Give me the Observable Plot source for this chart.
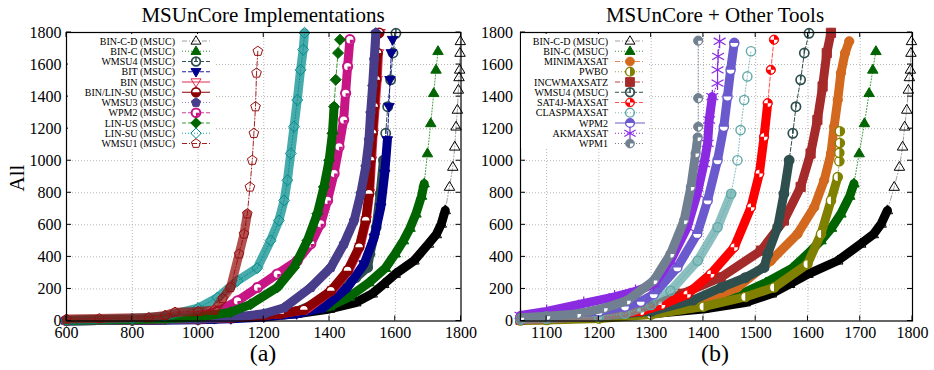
<!DOCTYPE html>
<html><head><meta charset="utf-8">
<script src="https://cdn.jsdelivr.net/npm/d3@7"></script>
<script src="https://cdn.jsdelivr.net/npm/@observablehq/plot@0.6"></script>
<style>
body{margin:0;background:#fff;}
#wrap{position:relative;width:934px;height:370px;overflow:hidden;font-family:"Liberation Serif","Times New Roman",serif;color:#000;}
.pnl{position:absolute;top:0;}
.lbl{position:absolute;white-space:nowrap;}
</style></head><body>
<div id="wrap"></div>
<script>
// ---------------- data ----------------
const xTicksA = [600, 800, 1000, 1200, 1400, 1600, 1800];
const xTicksB = [1100, 1200, 1300, 1400, 1500, 1600, 1700, 1800];
const yTicks = [0, 200, 400, 600, 800, 1000, 1200, 1400, 1600, 1800];

const binCD_x = [600,800,1000,1050,1100,1200,1300,1400,1480,1530,1565,1600,1657,1701,1725,1740,1752,1765,1775,1781,1785,1789,1792,1794,1796,1797,1798];
const binCD_y = [2,5,12,15,18,28,45,75,115,170,230,293,376,481,540,606,690,836,961,1087,1212,1317,1442,1520,1567,1672,1745];
const binC_x = [600,800,1000,1050,1100,1200,1300,1400,1460,1520,1570,1600,1625,1645,1663,1680,1688,1698,1708,1717,1724,1730];
const binC_y = [2,5,12,16,20,32,52,90,150,240,330,420,502,580,669,780,857,1045,1233,1421,1567,1683];
const wmsu4_x = [600,800,1000,1050,1100,1200,1300,1380,1434,1480,1516,1523,1542,1554,1564,1571,1577,1586,1593,1602];
const wmsu4_y = [2,5,10,14,18,30,60,130,209,270,334,418,585,794,1003,1171,1337,1505,1672,1795];
const bit_x = [600,800,1000,1100,1200,1300,1383,1455,1505,1536,1556,1568,1576,1581,1584,1588,1592];
const bit_y = [2,4,8,14,25,45,83,209,355,522,710,920,1129,1337,1505,1672,1755];
const bin_x = [600,800,1000,1100,1200,1250,1330,1410,1460,1493,1512,1522,1528,1533,1539,1545,1549,1554];
const bin_y = [3,6,12,20,35,45,72,195,320,465,630,800,1003,1171,1337,1505,1672,1798];
const binLinSu_x = [600,800,1000,1100,1200,1250,1322,1404,1455,1490,1510,1520,1525,1531,1536,1542,1546,1551];
const binLinSu_y = [3,6,12,20,35,45,70,188,314,460,627,794,1003,1171,1337,1505,1672,1798];
const wmsu3_x = [600,800,1000,1100,1200,1262,1343,1404,1444,1475,1495,1510,1520,1525,1531,1536,1541];
const wmsu3_y = [2,5,12,22,45,83,209,334,481,627,794,961,1129,1296,1463,1630,1798];
const wpm2m_x = [600,800,900,1000,1059,1120,1181,1241,1302,1343,1373,1394,1414,1429,1443,1449,1455,1462];
const wpm2m_y = [3,8,14,30,60,125,209,293,376,481,606,752,920,1087,1254,1421,1588,1755];
const linUs_x = [600,800,900,1000,1100,1160,1241,1292,1333,1363,1383,1399,1409,1414,1419,1426,1432];
const linUs_y = [3,8,14,25,55,104,209,334,502,669,836,1003,1171,1337,1505,1672,1755];
const linSu_x = [600,800,900,1000,1059,1120,1180,1221,1246,1262,1272,1282,1292,1302,1312,1320,1324];
const linSu_y = [5,15,30,80,146,251,330,502,627,752,878,1045,1212,1379,1567,1693,1798];
const wmsu1_x = [600,700,850,900,930,1000,1050,1075,1099,1125,1140,1150,1158,1165,1170,1175,1178,1182];
const wmsu1_y = [12,15,22,35,55,60,68,140,209,418,543,669,836,1003,1171,1337,1547,1683];

const minimax_x = [1050,1100,1200,1300,1369,1465,1529,1580,1612,1631,1644,1650,1657,1663,1671,1679];
const minimax_y = [4,8,22,50,83,209,376,543,710,878,1045,1212,1379,1547,1672,1745];
const pwbo_x = [1050,1100,1200,1300,1400,1480,1535,1599,1625,1644,1657,1660,1660,1661,1661];
const pwbo_y = [3,6,15,40,90,150,209,355,543,752,898,997,1049,1111,1184];
const incw_x = [1050,1100,1200,1300,1360,1433,1510,1554,1586,1605,1618,1628,1636,1644];
const incw_y = [8,18,40,90,170,272,439,627,836,1045,1254,1463,1672,1798];
const sat4j_x = [1050,1100,1200,1280,1320,1369,1414,1459,1491,1507,1516,1523,1529,1535];
const sat4j_y = [8,15,30,60,100,167,293,460,710,920,1149,1359,1567,1755];
const clasp_x = [1050,1100,1200,1250,1300,1337,1389,1427,1453,1465,1471,1478,1484,1491];
const clasp_y = [8,14,28,45,100,188,376,585,794,1003,1191,1379,1526,1683];
const wpm2_x = [1050,1100,1200,1250,1280,1305,1350,1388,1408,1427,1439,1446,1452,1459];
const wpm2_y = [25,35,60,90,120,167,334,543,752,1003,1212,1400,1567,1735];
const akmax_x = [1050,1100,1171,1230,1270,1305,1337,1369,1388,1401,1408,1411,1417,1427,1427,1428,1431];
const akmax_y = [35,60,110,150,185,230,376,585,794,982,1108,1254,1400,1484,1567,1651,1745];
const wpm1_x = [1050,1100,1159,1210,1254,1305,1337,1363,1376,1385,1389,1390,1390,1390];
const wpm1_y = [20,30,44,80,127,252,418,627,836,1045,1145,1212,1390,1749];

// ---------------- symbols ----------------
const RR = s => Math.sqrt(s / Math.PI);
const SY = {
  triUp: {draw(c, s) {const r = RR(s) * 1.2; c.moveTo(0, -r); c.lineTo(r * 0.95, r * 0.6); c.lineTo(-r * 0.95, r * 0.6); c.closePath();}},
  triDown: {draw(c, s) {const r = RR(s) * 1.2; c.moveTo(0, r); c.lineTo(r * 0.95, -r * 0.6); c.lineTo(-r * 0.95, -r * 0.6); c.closePath();}},
  circle: {draw(c, s) {const r = RR(s); c.moveTo(r, 0); c.arc(0, 0, r, 0, 2 * Math.PI);}},
  diamond: {draw(c, s) {const r = RR(s) * 1.2; c.moveTo(0, -r); c.lineTo(r, 0); c.lineTo(0, r); c.lineTo(-r, 0); c.closePath();}},
  pent: {draw(c, s) {const r = RR(s) * 1.1; for (let k = 0; k < 5; k++) {const a = -Math.PI / 2 + k * 2 * Math.PI / 5; const x = r * Math.cos(a), y = r * Math.sin(a); if (k) c.lineTo(x, y); else c.moveTo(x, y);} c.closePath();}},
  square: {draw(c, s) {const r = RR(s) * 1.0; c.rect(-r, -r, 2 * r, 2 * r);}},
  halfBottom: {draw(c, s) {const r = RR(s); c.moveTo(r, 0); c.arc(0, 0, r, 0, Math.PI); c.closePath();}},
  halfTop: {draw(c, s) {const r = RR(s); c.moveTo(-r, 0); c.arc(0, 0, r, Math.PI, 2 * Math.PI); c.closePath();}},
  halfRight: {draw(c, s) {const r = RR(s); c.moveTo(0, -r); c.arc(0, 0, r, -Math.PI / 2, Math.PI / 2); c.closePath();}},
  quadLR: {draw(c, s) {const r = RR(s) * 0.8; c.moveTo(0, 0); c.lineTo(r, 0); c.arc(0, 0, r, 0, Math.PI / 2); c.closePath();}},
  quadUL: {draw(c, s) {const r = RR(s) * 0.8; c.moveTo(0, 0); c.lineTo(-r, 0); c.arc(0, 0, r, Math.PI, 1.5 * Math.PI); c.closePath();}},
  hand: {draw(c, s) {const r = RR(s); c.moveTo(0, 0.5); c.lineTo(0, -r);}},
  asterisk: d3.symbolAsterisk
};
const MK = {
  openTri: c => [{sym: SY.triUp, fill: "none", stroke: c, sw: 1}],
  filledTri: c => [{sym: SY.triUp, fill: c, stroke: c, sw: 1}],
  clock: c => [{sym: SY.circle, fill: "none", stroke: c, sw: 1.7}, {sym: SY.hand, fill: "none", stroke: c, sw: 1.5}],
  filledTriDown: c => [{sym: SY.triDown, fill: c, stroke: c, sw: 1}],
  openTriDown: c => [{sym: SY.triDown, fill: "none", stroke: c, sw: 1}],
  halfBottom: c => [{sym: SY.circle, fill: "#fff", stroke: c, sw: 1.6}, {sym: SY.halfBottom, fill: c, stroke: "none"}],
  halfTop: c => [{sym: SY.circle, fill: "#fff", stroke: c, sw: 1.4}, {sym: SY.halfTop, fill: c, stroke: "none"}],
  halfRight: c => [{sym: SY.circle, fill: "#fff", stroke: c, sw: 1.4}, {sym: SY.halfRight, fill: c, stroke: "none"}],
  filledPent: c => [{sym: SY.pent, fill: c, stroke: c, sw: 1}],
  openPent: c => [{sym: SY.pent, fill: "none", stroke: c, sw: 1}],
  ringQuad: c => [{sym: SY.circle, fill: "#fff", stroke: c, sw: 2}, {sym: SY.quadLR, fill: c, stroke: "none"}],
  filledDiamond: c => [{sym: SY.diamond, fill: c, stroke: c, sw: 1}],
  openDiamond: c => [{sym: SY.diamond, fill: "none", stroke: c, sw: 1}],
  filledCircle: c => [{sym: SY.circle, fill: c, stroke: c, sw: 1}],
  filledSquare: c => [{sym: SY.square, fill: c, stroke: c, sw: 1}],
  sat4j: c => [{sym: SY.circle, fill: c, stroke: c, sw: 1}, {sym: SY.quadLR, fill: "#fff", stroke: "none"}, {sym: SY.quadUL, fill: "#fff", stroke: "none"}],
  openCircle: c => [{sym: SY.circle, fill: "none", stroke: c, sw: 1.4}],
  asterisk: c => [{sym: SY.asterisk, fill: "none", stroke: c, sw: 1.2, r: 6.5}],
  wpm1: c => [{sym: SY.circle, fill: c, stroke: c, sw: 1}, {sym: SY.quadLR, fill: "#fff", stroke: "none"}]
};
const DASH = {solid: null, dashed: "4,2", dotted: "1,2", dashdot: "5,2,1,2"};

const zip = (xs, ys) => xs.map((x, i) => ({x, y: ys[i]}));

function S(name, xs, ys, color, line, dash, marker, band, hollow) {
  return {name, data: zip(xs, ys), color, line, dash: DASH[dash], layers: MK[marker](color), band, hollow: !!hollow};
}
const sBinCD = S("BIN-C-D (MSUC)", binCD_x, binCD_y, "#000000", "#a0a0a0", "dashdot", "openTri", 700, false);
const sBinC = S("BIN-C (MSUC)", binC_x, binC_y, "#006400", "#3a9a3a", "dotted", "filledTri", 900);
const sWmsu4 = S("WMSU4 (MSUC)", wmsu4_x, wmsu4_y, "#2f4f4f", "#2f4f4f", "dashed", "clock", 1050);
const seriesA = [
  sBinCD, sBinC, sWmsu4,
  S("BIT (MSUC)", bit_x, bit_y, "#00008b", "#1a1aa8", "dashed", "filledTriDown", 1250),
  S("BIN (MSUC)", bin_x, bin_y, "#e0284e", "#e0284e", "solid", "openTriDown", 1700),
  S("BIN/LIN-SU (MSUC)", binLinSu_x, binLinSu_y, "#8b0000", "#8b0000", "solid", "halfBottom", 1700),
  S("WMSU3 (MSUC)", wmsu3_x, wmsu3_y, "#483d8b", "#8f84dc", "dotted", "filledPent", 1800),
  S("WPM2 (MSUC)", wpm2m_x, wpm2m_y, "#c71585", "#d0409a", "dashed", "ringQuad", 1800),
  S("LIN-US (MSUC)", linUs_x, linUs_y, "#006400", "#3a9a3a", "dashed", "filledDiamond", 1350),
  S("LIN-SU (MSUC)", linSu_x, linSu_y, "#008b8b", "#20a0a0", "dotted", "openDiamond", 1800, true),
  S("WMSU1 (MSUC)", wmsu1_x, wmsu1_y, "#960e0e", "#a02020", "dashdot", "openPent", 700, true)
];
const seriesB = [
  sBinCD, sBinC,
  S("MINIMAXSAT", minimax_x, minimax_y, "#d2691e", "#e08a50", "dashdot", "filledCircle", 1800),
  S("PWBO", pwbo_x, pwbo_y, "#808000", "#a0a040", "dotted", "halfRight", 900),
  S("INCWMAXSATZ", incw_x, incw_y, "#a52a2a", "#c04040", "dashdot", "filledSquare", 1800),
  sWmsu4,
  S("SAT4J-MAXSAT", sat4j_x, sat4j_y, "#ff0000", "#ff5050", "dashed", "sat4j", 1500),
  S("CLASPMAXSAT", clasp_x, clasp_y, "#5fa8a8", "#7fbcbc", "dotted", "openCircle", 900, true),
  S("WPM2", wpm2_x, wpm2_y, "#6a5acd", "#6a5acd", "solid", "halfTop", 1800),
  S("AKMAXSAT", akmax_x, akmax_y, "#8a2be2", "#8a2be2", "dotted", "asterisk", 1410),
  S("WPM1", wpm1_x, wpm1_y, "#708090", "#708090", "dotted", "wpm1", 1150)
];

const FONT = '"Liberation Serif","Times New Roman",serif';
const MR = 4.6;

function seriesMarks(s, xmin) {
  const pts = s.data.filter(d => d.x >= xmin);
  const dense = pts.filter(d => d.y <= s.band);
  const out = [
    Plot.line(pts, {x: "x", y: "y", stroke: s.line, strokeWidth: 1, strokeDasharray: s.dash}),
    Plot.line(dense, {x: "x", y: "y", stroke: s.color, strokeWidth: 9, strokeLinejoin: "round", strokeLinecap: "round", strokeOpacity: s.hollow ? 0.72 : 1})
  ];
  for (const L of s.layers) {
    out.push(Plot.dot(pts, {x: "x", y: "y", symbol: L.sym, r: L.r || MR, fill: L.fill, stroke: L.stroke, strokeWidth: L.sw || 1}));
  }
  return out;
}

function panel(o) {
  const W = 467, H = 370;
  const marks = [
    Plot.ruleX(o.xTicks.filter(v => v > o.xDomain[0] && v < o.xDomain[1]), {stroke: "#b4b4b4", strokeDasharray: "1,2"}),
    Plot.ruleY(yTicks.filter(v => v > 0 && v < 1800), {stroke: "#b4b4b4", strokeDasharray: "1,2"})
  ];
  for (const s of o.series) marks.push(...seriesMarks(s, o.xDomain[0]));
  marks.push(Plot.frame({stroke: "#000", strokeWidth: 1.2}));
  const p = Plot.plot({
    width: W, height: H,
    marginLeft: o.ml, marginRight: o.mr, marginTop: 32, marginBottom: 49.5,
    x: {domain: o.xDomain, ticks: o.xTicks, tickSize: 0, tickPadding: 6, tickFormat: d => String(d), label: null},
    y: {domain: [0, 1800], ticks: yTicks, tickSize: 0, tickPadding: o.yPad, tickFormat: d => String(d), label: null},
    style: {fontFamily: FONT, fontSize: "16px", color: "#000", background: "transparent", overflow: "visible"},
    marks
  });
  const svg = d3.select(p);
  svg.selectAll("text").attr("fill", "#000").style("font-family", FONT).style("font-size", "16px");
  const sx = p.scale("x"), sy = p.scale("y");
  const x0 = o.ml, x1 = W - o.mr, y0 = H - 49.5, y1 = 32;
  const g = svg.append("g").attr("stroke", "#000").attr("stroke-width", 1);
  for (const v of o.xTicks) {
    const px = sx.apply(v);
    g.append("line").attr("x1", px).attr("x2", px).attr("y1", y0).attr("y2", y0 - 5);
    g.append("line").attr("x1", px).attr("x2", px).attr("y1", y1).attr("y2", y1 + 5);
  }
  for (const v of yTicks) {
    const py = sy.apply(v);
    g.append("line").attr("x1", x0).attr("x2", x0 + 5).attr("y1", py).attr("y2", py);
    g.append("line").attr("x1", x1).attr("x2", x1 - 5).attr("y1", py).attr("y2", py);
  }
  // key
  const k = o.key;
  const kg = svg.append("g");
  kg.append("rect").attr("x", k.rx).attr("y", 34).attr("width", k.rw).attr("height", 114).attr("fill", "#fff");
  o.series.forEach((s, i) => {
    const yy = 41 + i * 10.25;
    kg.append("text").attr("x", k.tx).attr("y", yy).attr("dy", "0.35em").attr("text-anchor", "end")
      .style("font-family", FONT).style("font-size", "10px").attr("fill", "#000").text(s.name);
    kg.append("line").attr("x1", k.lx1).attr("x2", k.lx2).attr("y1", yy).attr("y2", yy)
      .attr("stroke", s.line).attr("stroke-width", 1).attr("stroke-dasharray", s.dash);
    for (const L of s.layers) {
      const r = (L.r || MR) * 0.95;
      kg.append("path").attr("transform", `translate(${k.mx},${yy})`)
        .attr("d", d3.symbol(L.sym, r * r * Math.PI)())
        .attr("fill", L.fill).attr("stroke", L.stroke).attr("stroke-width", L.sw || 1);
    }
  });
  return p;
}

const wrap = document.getElementById("wrap");
const pA = panel({series: seriesA, xDomain: [600, 1800], xTicks: xTicksA, ml: 66, mr: 6.5, yPad: 5,
  key: {rx: 68, rw: 146, tx: 175, lx1: 182, lx2: 210, mx: 196}});
const pB = panel({series: seriesB, xDomain: [1050, 1800], xTicks: xTicksB, ml: 53, mr: 22, yPad: 7.5,
  key: {rx: 54, rw: 128, tx: 141, lx1: 148, lx2: 178, mx: 163}});
const dA = document.createElement("div"); dA.className = "pnl"; dA.style.left = "0px"; dA.appendChild(pA);
const dB = document.createElement("div"); dB.className = "pnl"; dB.style.left = "467px"; dB.appendChild(pB);
wrap.appendChild(dA); wrap.appendChild(dB);

function label(text, cx, top, size, lh, rot) {
  const d = document.createElement("div");
  d.className = "lbl"; d.textContent = text;
  d.style.fontSize = size + "px"; d.style.lineHeight = lh + "px";
  d.style.top = top + "px"; d.style.left = cx + "px";
  d.style.transform = rot ? "translate(-50%,-50%) rotate(-90deg)" : "translateX(-50%)";
  wrap.appendChild(d);
}
label("MSUnCore Implementations", 263, 5, 21, 21);
label("MSUnCore + Other Tools", 715, 5, 21, 21);
label("(a)", 263, 345, 24, 17);
label("(b)", 715, 345, 24, 17);
label("All", 17, 178, 21, 21, true);
</script>
</body></html>
